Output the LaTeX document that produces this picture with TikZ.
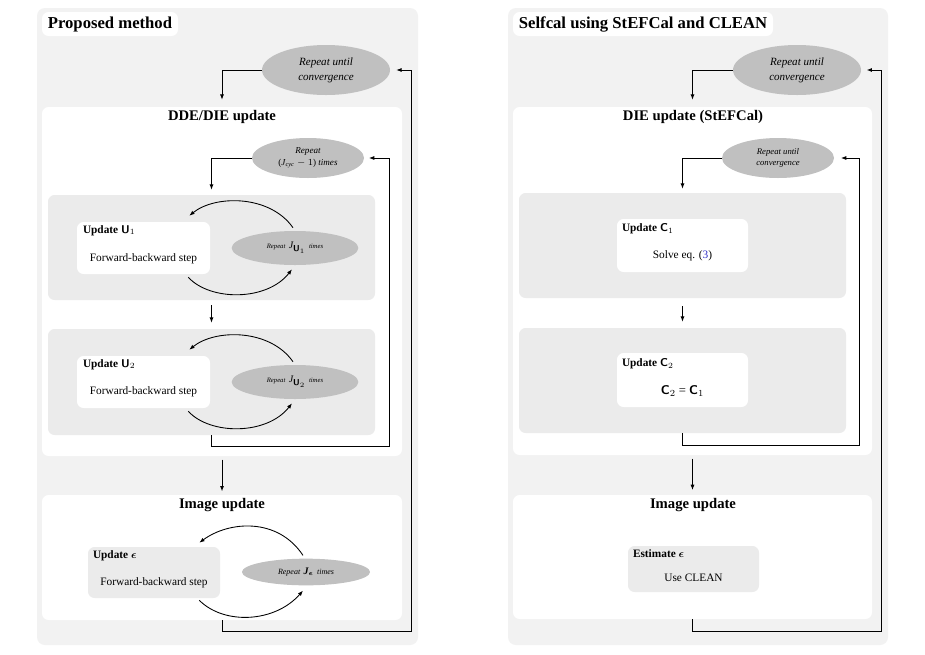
\documentclass[tikz,border=0pt]{standalone}
\usepackage{amsmath}
\usepackage{fontspec}
\setmainfont{Liberation Serif}
\usetikzlibrary{shapes.geometric,arrows.meta,fit,calc}
\definecolor{panelgray}{HTML}{F2F2F2}
\definecolor{boxgray}{HTML}{EBEBEB}
\definecolor{ellgray}{HTML}{C0C0C0}
\definecolor{refblue}{HTML}{3030C8}
\begin{document}
\begin{tikzpicture}[x=0.75pt,y=-0.75pt,
  panel/.style={fill=panelgray, rounded corners=6pt, inner sep=0pt},
  whitebox/.style={fill=white, rounded corners=5pt, inner sep=0pt},
  graybox/.style={fill=boxgray, rounded corners=5pt, inner sep=0pt},
  loopell/.style={ellipse, fill=ellgray, inner sep=0pt, align=center},
  bigell/.style={loopell, minimum width=96pt, minimum height=37.5pt, font=\fontsize{8.3}{11}\selectfont\itshape},
  midell/.style={loopell, minimum width=84pt, minimum height=30pt},
  smallell/.style={loopell, minimum width=95pt, minimum height=25.5pt},
  paneltitle/.style={inner sep=0pt, font=\fontsize{12.5}{14}\selectfont\bfseries},
  sectitle/.style={inner sep=0pt, font=\fontsize{11}{13}\selectfont\bfseries},
  boxhead/.style={anchor=west, inner sep=0pt, font=\fontsize{8.5}{10}\selectfont\bfseries},
  boxbody/.style={inner sep=0pt, font=\fontsize{8.5}{10}\selectfont},
  arr/.style={draw=black, line width=0.65pt, -{Latex[length=4pt,width=3pt]}}
]
\useasboundingbox[fill=white] (0,0) rectangle (925,654);

% ================= LEFT PANEL =================
\node[panel, fit={(37,8) (418,645)}] (P1) {};
\node[whitebox, fit={(42,12) (178,36)}] (T1) {};
\node[paneltitle] (T1t) at (T1.center) {Proposed method};

\node[whitebox, fit={(42,107) (402,456)}] (DDE) {};
\node[sectitle] (DDEt) at (222,117) {DDE/DIE update};

\node[graybox, fit={(48,195) (375,300)}] (U1g) {};
\node[whitebox, fit={(77,222) (210,274)}] (W1) {};
\node[boxhead] (W1h) at ([shift={(6,9)}]W1.north west) {Update \textsf{U}$_1$};
\node[boxbody] (W1b) at ([shift={(0,11)}]W1.center) {Forward-backward step};

\node[graybox, fit={(48,329) (375,435)}] (U2g) {};
\node[whitebox, fit={(77,356) (210,408)}] (W2) {};
\node[boxhead] (W2h) at ([shift={(6,9)}]W2.north west) {Update \textsf{U}$_2$};
\node[boxbody] (W2b) at ([shift={(0,10)}]W2.center) {Forward-backward step};

\node[whitebox, fit={(42,495) (402,620)}] (IMG) {};
\node[sectitle] (IMGt) at (222,505) {Image update};
\node[graybox, fit={(88,547) (220,598)}] (Weps) {};
\node[boxhead] (Wepsh) at ([shift={(5,9)}]Weps.north west) {Update $\boldsymbol{\epsilon}$};
\node[boxbody] (Wepsb) at ([shift={(0,10)}]Weps.center) {Forward-backward step};

\node[bigell] (E1) at (326,70) {Repeat until\\convergence};
\node[midell, font=\fontsize{6.8}{9}\selectfont] (E2) at (308,158)
  {\itshape Repeat\\($\mathit{J}_{\mathit{cyc}}-1$) \itshape times};
\node[smallell] (E3) at (295,248)
  {{\fontsize{5}{6}\selectfont\itshape Repeat} {\fontsize{7.5}{8}\selectfont$\mathit{J}_{\mbox{\fontsize{6.5}{7}\selectfont\sffamily\bfseries U}_1}$} {\fontsize{5}{6}\selectfont\itshape times}};
\node[smallell] (E4) at (295,382)
  {{\fontsize{5}{6}\selectfont\itshape Repeat} {\fontsize{7.5}{8}\selectfont$\mathit{J}_{\mbox{\fontsize{6.5}{7}\selectfont\sffamily\bfseries U}_2}$} {\fontsize{5}{6}\selectfont\itshape times}};
\node[loopell, minimum width=96pt, minimum height=20pt] (Eeps) at (306,572)
  {{\fontsize{6}{7}\selectfont\itshape Repeat} {\fontsize{7.5}{8}\selectfont$\boldsymbol{\mathit{J}_{\epsilon}}$} {\fontsize{6}{7}\selectfont\itshape times}};

% connectors left
\draw[arr] (E1.west) -| ([shift={(0,-7)}]DDE.north);
\draw[arr] (E2.west) -| ([shift={(0,-5)}]U1g.north);
\draw[arr] ([shift={(-2,-3)}]E3.north) .. controls +(-23,-33) and +(26,-21) .. ([shift={(-21,-6)}]W1.north east);
\draw[arr] ([shift={(-22,3)}]W1.south east) .. controls +(22,24) and +(-25,32) .. ([shift={(-3,4)}]E3.south);
\draw[arr, shorten <=3.75pt, shorten >=4.5pt] (U1g.south) -- (U2g.north);
\draw[arr] ([shift={(-2,-3)}]E4.north) .. controls +(-23,-33) and +(26,-21) .. ([shift={(-21,-6)}]W2.north east);
\draw[arr] ([shift={(-22,3)}]W2.south east) .. controls +(22,24) and +(-25,32) .. ([shift={(-3,4)}]E4.south);
\coordinate (r2) at (389,446);
\draw[arr, shorten >=3.5pt] (U2g.south) |- (r2) |- (E2.east);
\draw[arr, shorten <=2.5pt, shorten >=2.5pt] (DDE.south) -- (IMG.north);
\draw[arr] ([shift={(-3,-3)}]Eeps.north) .. controls +(-25,-38) and +(30,-22) .. ([shift={(-21,-4)}]Weps.north east);
\draw[arr] ([shift={(-21,2)}]Weps.south east) .. controls +(25,25) and +(-28,32) .. ([shift={(-3,5)}]Eeps.south);
\coordinate (r1) at (411,631);
\draw[arr, shorten >=4.5pt] (IMG.south) |- (r1) |- (E1.east);

% ================= RIGHT PANEL =================
\node[panel, fit={(508,8) (888,645)}] (P2) {};
\node[whitebox, fit={(513,12) (773,36)}] (T2) {};
\node[paneltitle] (T2t) at (T2.center) {Selfcal using StEFCal and CLEAN};

\node[whitebox, fit={(513,107) (872,455)}] (DIE) {};
\node[sectitle] (DIEt) at (693,117) {DIE update (StEFCal)};

\node[graybox, fit={(519,193) (846,298)}] (C1g) {};
\node[whitebox, fit={(617,219) (748,272)}] (WC1) {};
\node[boxhead] (WC1h) at ([shift={(5,10)}]WC1.north west) {Update \textsf{C}$_1$};
\node[boxbody] (WC1b) at ([shift={(0,10)}]WC1.center) {Solve eq. (\textcolor{refblue}{3})};

\node[graybox, fit={(519,328) (846,433)}] (C2g) {};
\node[whitebox, fit={(617,353) (748,407)}] (WC2) {};
\node[boxhead] (WC2h) at ([shift={(5,11)}]WC2.north west) {Update \textsf{C}$_2$};
\node[boxbody, font=\fontsize{9.5}{11}\selectfont] (WC2b) at ([shift={(0,11)}]WC2.center)
  {\textsf{\bfseries C}$_2$ = \textsf{\bfseries C}$_1$};

\node[whitebox, fit={(513,495) (872,619)}] (IMG2) {};
\node[sectitle] (IMG2t) at (693,505) {Image update};
\node[graybox, fit={(628,546) (759,592)}] (Est) {};
\node[boxhead] (Esth) at ([shift={(5,8)}]Est.north west) {Estimate $\boldsymbol{\epsilon}$};
\node[boxbody] (Estb) at ([shift={(0,9)}]Est.center) {Use CLEAN};

\node[bigell] (E5) at (797,70) {Repeat until\\convergence};
\node[midell, font=\fontsize{6.5}{8.3}\selectfont\itshape] (E6) at (778,158) {Repeat until\\convergence};

% connectors right
\draw[arr] (E5.west) -| ([shift={(0,-7)}]DIE.north);
\draw[arr] (E6.west) -| ([shift={(0,-4)}]C1g.north);
\draw[arr, shorten <=6pt, shorten >=4.5pt] (C1g.south) -- (C2g.north);
\coordinate (r4) at (859,445);
\draw[arr, shorten >=5pt] (C2g.south) |- (r4) |- (E6.east);
\draw[arr, shorten <=2.5pt, shorten >=3.5pt] (DIE.south) -- (IMG2.north);
\coordinate (r3) at (881,631);
\draw[arr, shorten >=4pt] (IMG2.south) |- (r3) |- (E5.east);
\end{tikzpicture}
\end{document}
